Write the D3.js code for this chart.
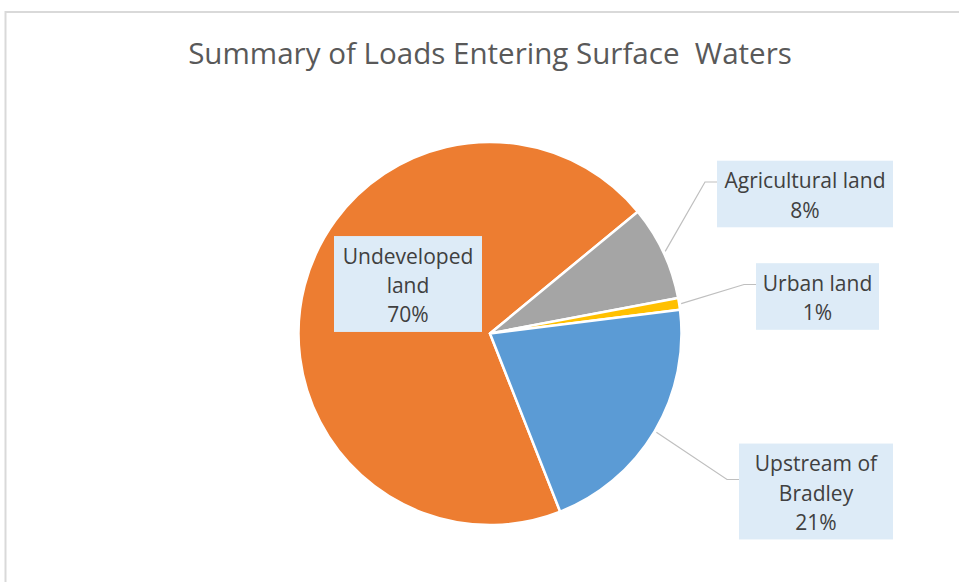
<!DOCTYPE html>
<html>
<head>
<meta charset="utf-8">
<script src="https://cdn.jsdelivr.net/npm/d3@7"></script>
<style>
  html, body { margin: 0; padding: 0; background: #ffffff; }
  svg { display: block; }
</style>
</head>
<body>
<svg id="chart" width="959" height="582"></svg>
<script>
// Share of loads entering surface waters, by source
const categories = ["Undeveloped land", "Agricultural land", "Urban land", "Upstream of Bradley"];
const shares = [70, 8, 1, 21];
const labelLines = [["Undeveloped", "land"], ["Agricultural land"], ["Urban land"], ["Upstream of", "Bradley"]];
const titleText = "Summary of Loads Entering Surface  Waters";

// Layout
const W = 959, H = 582;
const cx = 490, cy = 333.5, radius = 191.5;
const sliceColors = ["#ED7D31", "#A5A5A5", "#FFC000", "#5B9BD5"];
const startDeg = 158.5;
// label box centres and widths; null leader for labels placed inside their slice
const labelBoxes = [
  { x: 408, y: 284, w: 148, leader: false },
  { x: 805, y: 194, w: 176, leader: true },
  { x: 817.5, y: 296.5, w: 123, leader: true },
  { x: 816, y: 491.5, w: 154, leader: true }
];
const lineH = 29.3;
const fontFamily = "'Open Sans', 'Noto Sans', sans-serif";

const svg = d3.select("#chart");

// frame of the chart area
svg.append("rect")
  .attr("x", 5.5).attr("y", 12)
  .attr("width", W + 20).attr("height", H + 20)
  .attr("fill", "#ffffff")
  .attr("stroke", "#d9d9d9").attr("stroke-width", 2);

// title, sized to its printed width
const title = svg.append("text")
  .attr("x", cx).attr("y", 64)
  .attr("text-anchor", "middle")
  .attr("fill", "#595959")
  .style("font-family", fontFamily)
  .style("font-size", "28px")
  .style("white-space", "pre")
  .text(titleText);
{
  const tw = title.node().getComputedTextLength();
  title.style("font-size", (28 * 604 / tw).toFixed(2) + "px");
}

const rad = d => d * Math.PI / 180;
const pie = d3.pie().sort(null).value(d => d)
  .startAngle(rad(startDeg)).endAngle(rad(startDeg + 360));
const arcs = pie(shares);
const arc = d3.arc().innerRadius(0).outerRadius(radius);

const g = svg.append("g").attr("transform", `translate(${cx},${cy})`);
g.selectAll("path.slice")
  .data(arcs)
  .join("path")
  .attr("class", "slice")
  .attr("d", arc)
  .attr("fill", (d, i) => sliceColors[i])
  .attr("stroke", "#ffffff")
  .attr("stroke-width", 2.5)
  .attr("stroke-linejoin", "round");

// leader lines from slice edge to the label boxes
arcs.forEach((a, i) => {
  const b = labelBoxes[i];
  if (!b.leader) return;
  const mid = (a.startAngle + a.endAngle) / 2;
  const r0 = radius + 2;
  const sx = cx + r0 * Math.sin(mid), sy = cy - r0 * Math.cos(mid);
  const left = b.x - b.w / 2;
  svg.append("polyline")
    .attr("points", [[sx, sy], [left - 12, b.y - 12], [left, b.y - 12]].map(p => p.join(",")).join(" "))
    .attr("fill", "none")
    .attr("stroke", "#bfbfbf")
    .attr("stroke-width", 1.2);
});

// label boxes
const labelSize = (() => {
  const t = svg.append("text").style("font-family", fontFamily).style("font-size", "20px").text("Agricultural land");
  const w = t.node().getComputedTextLength();
  t.remove();
  return 20 * 161 / w;
})();

arcs.forEach((a, i) => {
  const b = labelBoxes[i];
  const lines = labelLines[i].concat([Math.round(a.data) + "%"]);
  const n = lines.length;
  const h = n * lineH + 8;
  const lg = svg.append("g").attr("class", "label");
  lg.append("rect")
    .attr("x", b.x - b.w / 2).attr("y", b.y - h / 2)
    .attr("width", b.w).attr("height", h)
    .attr("fill", "#DDEBF7");
  lg.selectAll("text")
    .data(lines)
    .join("text")
    .attr("x", b.x)
    .attr("y", (d, k) => b.y + (k - (n - 1) / 2) * lineH + 9)
    .attr("text-anchor", "middle")
    .attr("fill", "#404040")
    .style("font-family", fontFamily)
    .style("font-size", labelSize.toFixed(2) + "px")
    .text(d => d);
});
</script>
</body>
</html>
